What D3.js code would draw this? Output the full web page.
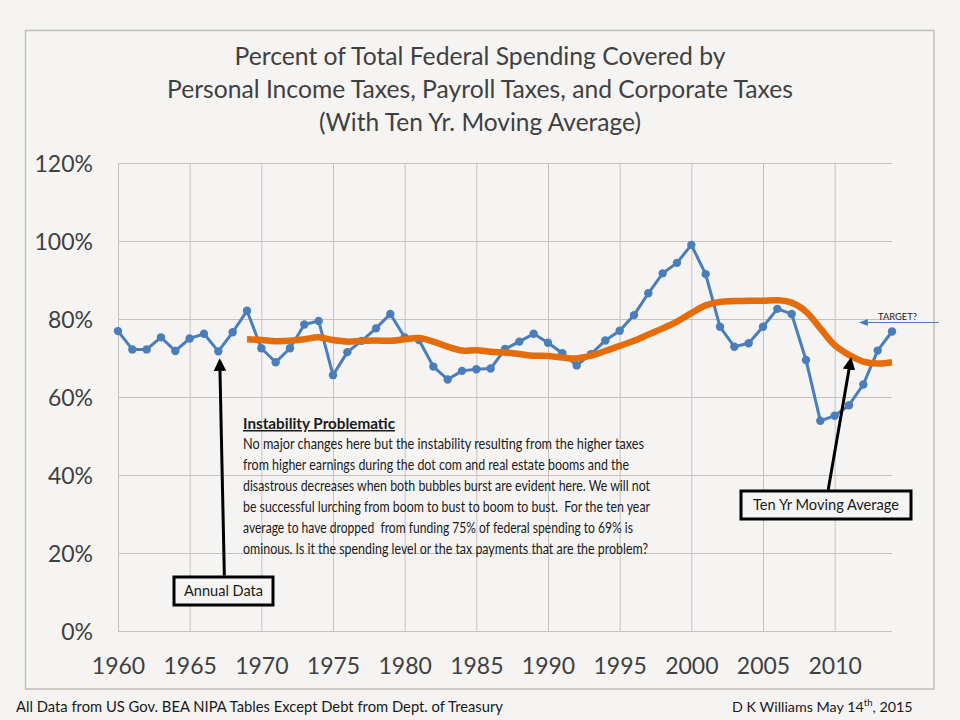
<!DOCTYPE html>
<html><head><meta charset="utf-8">
<script src="https://cdn.jsdelivr.net/npm/d3@7"></script>
<style>
html,body{margin:0;padding:0;background:#f4f3f2;}
svg{display:block;font-family:Lato,"Open Sans",sans-serif;}
text{white-space:pre;}
</style></head>
<body><svg id="c" width="960" height="720"></svg>
<script>
const years = d3.range(1960, 2015);
const annual = [76.9,72.2,72.2,75.3,71.8,75.0,76.2,71.7,76.6,82.1,
  72.5,68.9,72.5,78.6,79.5,65.6,71.5,74.4,77.6,81.3,
  75.3,74.6,67.8,64.5,66.7,67.1,67.3,72.3,74.2,76.2,
  73.9,71.2,68.1,71.0,74.5,77.0,81.0,86.6,91.7,94.4,
  99.0,91.5,78.0,72.9,73.8,78.0,82.6,81.3,69.5,53.9,
  55.2,57.9,63.2,71.9,76.8];
const maYears = d3.range(1969, 2015);
const movingAvg = [74.8,74.6,74.3,74.4,74.8,75.3,74.6,74.2,74.4,74.5,
  74.4,74.8,75.1,74.2,72.9,71.9,72.0,71.6,71.4,71.0,
  70.6,70.5,70.1,69.9,70.6,71.8,73.1,74.4,76.0,77.6,
  79.3,81.5,83.5,84.4,84.6,84.7,84.7,84.8,84.2,81.9,
  77.6,73.3,70.8,69.1,68.6,68.9];
const xTicks = [1960,1965,1970,1975,1980,1985,1990,1995,2000,2005,2010];
const yTicks = [0,20,40,60,80,100,120];
const titleLines = ["Percent of Total Federal Spending Covered by",
  "Personal Income Taxes, Payroll Taxes, and Corporate Taxes",
  "(With Ten Yr. Moving Average)"];
const noteTitle = "Instability Problematic";
const noteLines = [
  "No major changes here but the instability resulting from the higher taxes",
  "from higher earnings during the dot com and real estate booms and the",
  "disastrous decreases when both bubbles burst are evident here. We will not",
  "be successful lurching from boom to bust to boom to bust.  For the ten year",
  "average to have dropped  from funding 75% of federal spending to 69% is",
  "ominous. Is it the spending level or the tax payments that are the problem?"];
const noteWidths = [401,386,407,407,390,405];

const svg = d3.select("#c");
const x = d3.scaleLinear().domain([1960, 2014]).range([118, 892]);
const y = d3.scaleLinear().domain([0, 120]).range([631, 163]);
const BLUE = "#4a7ebb", ORANGE = "#e46c0a", GRID = "#c4c2c1", TXT = "#404040";

// frame
svg.append("rect").attr("x",25.5).attr("y",30.5).attr("width",908.5).attr("height",658.5)
  .attr("fill","#f5f4f3").attr("stroke","#c0bebd").attr("stroke-width",1.5);

// title
const tw = [491, 626, 322];
const ty = [65, 98, 131];
titleLines.forEach((t,i)=>{
  svg.append("text").attr("x",480).attr("y",ty[i]).attr("text-anchor","middle")
    .attr("font-size",25).attr("fill",TXT)
    .attr("textLength",tw[i]).attr("lengthAdjust","spacingAndGlyphs").text(t);
});

// gridlines
const gy = svg.append("g").attr("transform","translate(118,0)")
  .call(d3.axisLeft(y).tickValues(yTicks).tickSize(-(892-118)).tickFormat(""));
gy.select(".domain").remove();
gy.selectAll("line").attr("stroke",GRID).attr("stroke-width",1);
const gx = svg.append("g").attr("transform","translate(0,631)")
  .call(d3.axisBottom(x).tickValues(xTicks).tickSize(-(631-163)).tickFormat(""));
gx.select(".domain").remove();
gx.selectAll("line").attr("stroke",GRID).attr("stroke-width",1);
svg.append("line").attr("x1",118).attr("x2",892).attr("y1",631.5).attr("y2",631.5)
  .attr("stroke",GRID);

// axis labels
const ay = svg.append("g").attr("transform","translate(93,0)")
  .call(d3.axisLeft(y).tickValues(yTicks).tickSize(0).tickPadding(0).tickFormat(d=>d+"%"));
ay.select(".domain").remove();
ay.selectAll("text").attr("font-size",23).attr("fill",TXT).attr("font-family","Lato").attr("dy","0.36em");
const ax = svg.append("g").attr("transform","translate(0,674)")
  .call(d3.axisBottom(x).tickValues(xTicks).tickSize(0).tickPadding(0).tickFormat(d3.format("d")));
ax.select(".domain").remove();
ax.selectAll("text").attr("font-size",23).attr("fill",TXT).attr("font-family","Lato").attr("dy","0");

// annual line
const annData = years.map((yr,i)=>({yr, v: annual[i]}));
svg.append("path").datum(annData)
  .attr("d", d3.line().x(d=>x(d.yr)).y(d=>y(d.v)))
  .attr("fill","none").attr("stroke",BLUE).attr("stroke-width",3).attr("stroke-linejoin","round");
svg.append("g").selectAll("circle").data(annData).join("circle")
  .attr("cx",d=>x(d.yr)).attr("cy",d=>y(d.v)).attr("r",4.2).attr("fill",BLUE);

// moving average
const maData = maYears.map((yr,i)=>({yr, v: movingAvg[i]}));
svg.append("path").datum(maData)
  .attr("d", d3.line().curve(d3.curveCatmullRom.alpha(0.5)).x(d=>x(d.yr)).y(d=>y(d.v)))
  .attr("fill","none").attr("stroke",ORANGE).attr("stroke-width",6.5)
  .attr("stroke-linecap","butt").attr("stroke-linejoin","round");

// arrow markers
const defs = svg.append("defs");
defs.append("marker").attr("id","ah").attr("viewBox","0 0 10 10").attr("refX",8).attr("refY",5)
  .attr("markerWidth",4.2).attr("markerHeight",4.2).attr("orient","auto")
  .append("path").attr("d","M0,0L10,5L0,10z").attr("fill","#000");
defs.append("marker").attr("id","ahb").attr("viewBox","0 0 10 10").attr("refX",9).attr("refY",5)
  .attr("markerWidth",9).attr("markerHeight",9).attr("markerUnits","userSpaceOnUse").attr("orient","auto")
  .append("path").attr("d","M0,1L10,5L0,9z").attr("fill",BLUE);

// annual data annotation
svg.append("line").attr("x1",x(1967.42)).attr("y1",y(14.2)).attr("x2",x(1967.1)).attr("y2",y(69.3))
  .attr("stroke","#000").attr("stroke-width",3).attr("marker-end","url(#ah)");
svg.append("rect").attr("x",174).attr("y",577).attr("width",99).attr("height",28)
  .attr("fill","#f5f4f3").attr("stroke","#000").attr("stroke-width",3);
svg.append("text").attr("x",223.5).attr("y",596).attr("text-anchor","middle").attr("font-size",15)
  .attr("fill","#1a1a1a").attr("textLength",79).attr("lengthAdjust","spacingAndGlyphs").text("Annual Data");

// moving average annotation
svg.append("line").attr("x1",x(2009.55)).attr("y1",y(36.2)).attr("x2",x(2011.12)).attr("y2",y(69.6))
  .attr("stroke","#000").attr("stroke-width",3).attr("marker-end","url(#ah)");
svg.append("rect").attr("x",741).attr("y",491).attr("width",170).attr("height",28)
  .attr("fill","#f5f4f3").attr("stroke","#000").attr("stroke-width",3);
svg.append("text").attr("x",826).attr("y",510).attr("text-anchor","middle").attr("font-size",16)
  .attr("fill","#1a1a1a").attr("textLength",146).attr("lengthAdjust","spacingAndGlyphs").text("Ten Yr Moving Average");

// target annotation
svg.append("line").attr("x1",939).attr("y1",y(79.1)).attr("x2",x(2011.75)).attr("y2",y(79.1))
  .attr("stroke",BLUE).attr("stroke-width",1.2).attr("marker-end","url(#ahb)");
svg.append("text").attr("x",878).attr("y",320).attr("font-size",9).attr("fill","#1a1a1a")
  .attr("textLength",39).attr("lengthAdjust","spacingAndGlyphs").text("TARGET?");

// note text
svg.append("text").attr("x",243).attr("y",429).attr("font-size",15).attr("font-weight","bold")
  .attr("fill","#1a1a1a").attr("text-decoration","underline")
  .attr("textLength",152).attr("lengthAdjust","spacingAndGlyphs").text(noteTitle);
noteLines.forEach((t,i)=>{
  svg.append("text").attr("x",243).attr("y",448.5+i*21).attr("font-size",15.2).attr("fill","#1a1a1a")
    .attr("textLength",noteWidths[i]).attr("lengthAdjust","spacingAndGlyphs").text(t);
});

// footer
svg.append("text").attr("x",16).attr("y",712).attr("font-size",15).attr("fill","#1a1a1a")
  .attr("textLength",487).attr("lengthAdjust","spacingAndGlyphs")
  .text("All Data from US Gov. BEA NIPA Tables Except Debt from Dept. of Treasury");
const ft = svg.append("text").attr("x",732).attr("y",712).attr("font-size",14.3).attr("fill","#1a1a1a");
ft.append("tspan").text("D K Williams May 14");
ft.append("tspan").attr("font-size",9.5).attr("dy",-6).text("th");
ft.append("tspan").attr("dy",6).text(", 2015");
</script></body></html>
